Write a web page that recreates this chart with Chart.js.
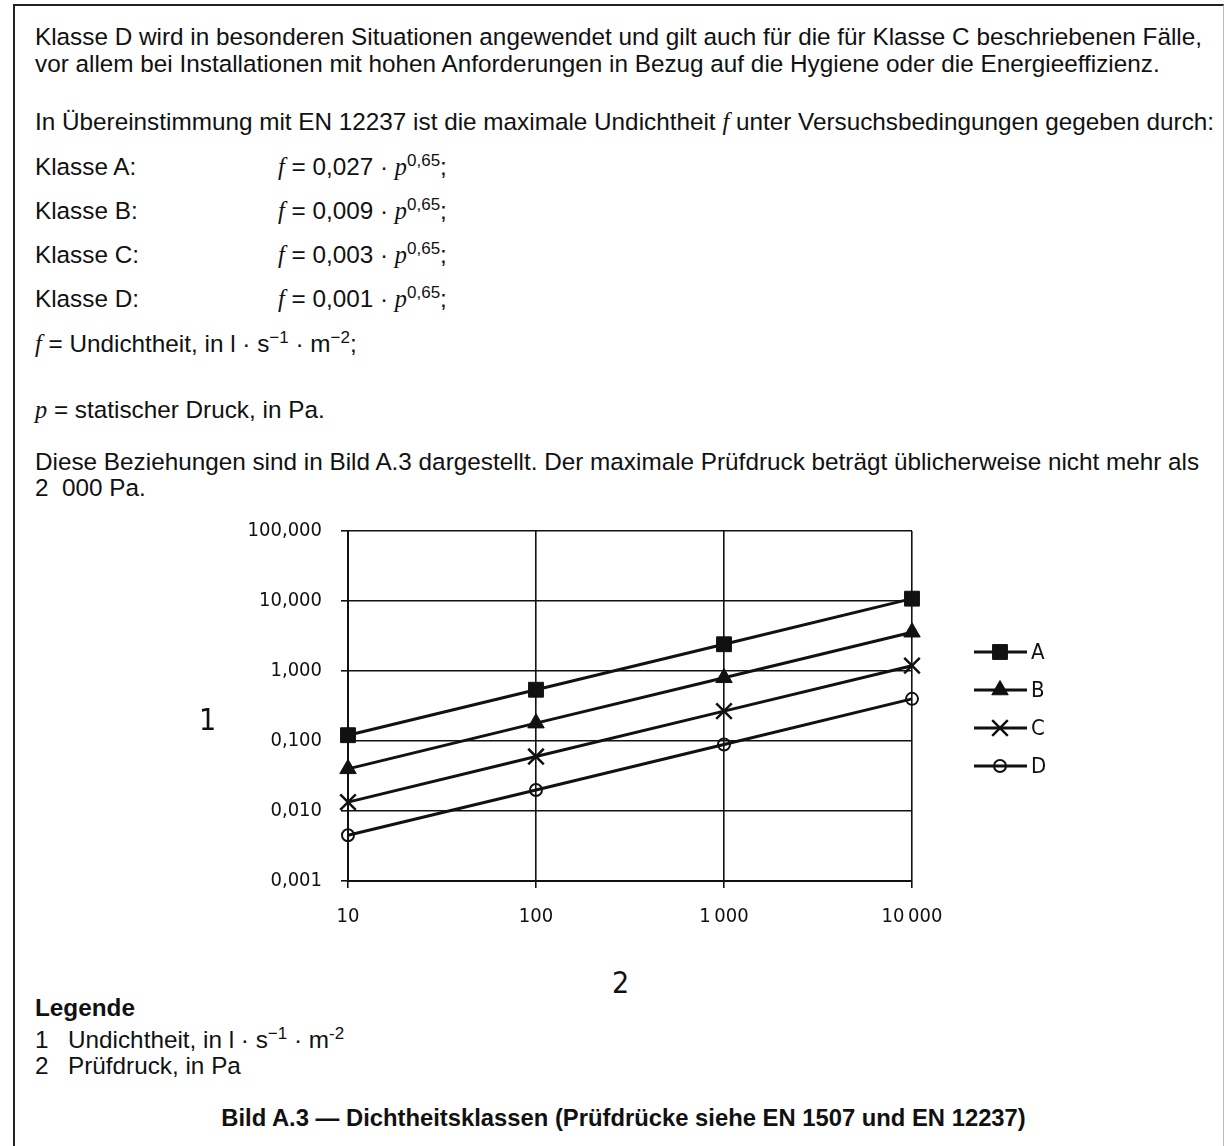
<!DOCTYPE html>
<html>
<head>
    <title>Bild A.3 Dichtheitsklassen</title>
    <script src="https://cdn.jsdelivr.net/npm/chart.js"></script>
    <style>
        body { margin: 0; background: #fff; }
        #page { position: relative; width: 1225px; height: 1146px; overflow: hidden;
                font-family: "Liberation Sans", Arial, sans-serif; font-size: 24.3px; color: #111; }
        #frame { position: absolute; left: 13px; top: 4px; right: 1px; height: 1200px;
                 border-top: 2px solid #222; border-left: 2px solid #222; border-right: 1px solid #bbb; }
        .ln { position: absolute; left: 35px; line-height: 26px; white-space: nowrap; }
        .fx { left: 278px; }
        .it { font-family: "Liberation Serif", "Times New Roman", serif; font-style: italic; }
        sup { font-size: 70%; line-height: 0; vertical-align: 0.55em; }
        .num { left: 68px; }
        .b { font-weight: bold; }
        .cap { font-size: 23.8px; }
        .ax { position: absolute; font-family: "DejaVu Sans Condensed", "Liberation Sans Narrow", sans-serif;
              font-size: 30px; line-height: 30px; color: #111; }
        #chart-box { position: absolute; left: 0; top: 480px; width: 1225px; height: 470px; }
    </style>
</head>
<body>
<div id="page">
    <div id="frame"></div>

    <div class="ln" style="top:24px">Klasse D wird in besonderen Situationen angewendet und gilt auch für die für Klasse C beschriebenen Fälle,</div>
    <div class="ln" style="top:51px">vor allem bei Installationen mit hohen Anforderungen in Bezug auf die Hygiene oder die Energieeffizienz.</div>
    <div class="ln" style="top:109px">In Übereinstimmung mit EN 12237 ist die maximale Undichtheit <span class="it">f</span> unter Versuchsbedingungen gegeben durch:</div>

    <div class="ln" style="top:154px">Klasse A:</div>
    <div class="ln fx" style="top:154px"><span class="it">f</span> = 0,027 · <span class="it">p</span><sup>0,65</sup>;</div>
    <div class="ln" style="top:198px">Klasse B:</div>
    <div class="ln fx" style="top:198px"><span class="it">f</span> = 0,009 · <span class="it">p</span><sup>0,65</sup>;</div>
    <div class="ln" style="top:242px">Klasse C:</div>
    <div class="ln fx" style="top:242px"><span class="it">f</span> = 0,003 · <span class="it">p</span><sup>0,65</sup>;</div>
    <div class="ln" style="top:286px">Klasse D:</div>
    <div class="ln fx" style="top:286px"><span class="it">f</span> = 0,001 · <span class="it">p</span><sup>0,65</sup>;</div>

    <div class="ln" style="top:331px"><span class="it">f</span> = Undichtheit, in l · s<sup>−1</sup> · m<sup>−2</sup>;</div>
    <div class="ln" style="top:397px"><span class="it">p</span> = statischer Druck, in Pa.</div>

    <div class="ln" style="top:449px">Diese Beziehungen sind in Bild A.3 dargestellt. Der maximale Prüfdruck beträgt üblicherweise nicht mehr als</div>
    <div class="ln" style="top:475px">2&nbsp;&nbsp;000 Pa.</div>

    <div id="chart-box"><canvas id="chart"></canvas></div>
    <div class="ax" style="left:199px; top:705px">1</div>
    <div class="ax" style="left:612px; top:968px">2</div>

    <div class="ln b" style="top:995px">Legende</div>
    <div class="ln" style="top:1027px">1</div>
    <div class="ln num" style="top:1027px">Undichtheit, in l · s<sup>−1</sup> · m<sup>-2</sup></div>
    <div class="ln" style="top:1053px">2</div>
    <div class="ln num" style="top:1053px">Prüfdruck, in Pa</div>

    <div class="ln b cap" style="top:1105px; left:0; width:1247px; text-align:center">Bild A.3 — Dichtheitsklassen (Prüfdrücke siehe EN 1507 und EN 12237)</div>
</div>

<script>
// Prüfdruck p in Pa
const pressures = [10, 100, 1000, 10000];

// Undichtheit f in l/(s·m²)
const klasseA = [0.121, 0.54, 2.41, 10.8];
const klasseB = [0.040, 0.180, 0.80, 3.58];
const klasseC = [0.0134, 0.060, 0.267, 1.19];
const klasseD = [0.0045, 0.020, 0.089, 0.40];

const seriesNames = ['A', 'B', 'C', 'D'];

const xTickValues = [10, 100, 1000, 10000];
const xTickLabels = ['10', '100', '1\u2009000', '10\u2009000'];
const yTickValues = [0.001, 0.01, 0.1, 1, 10, 100];
const yTickLabels = ['0,001', '0,010', '0,100', '1,000', '10,000', '100,000'];

const ink = '#111';
const chartFont = '"DejaVu Sans Condensed", "Liberation Sans Narrow", sans-serif';

function toPoints(values) {
    return values.map((v, i) => ({ x: pressures[i], y: v }));
}

// marker style per class
const markers = [
    { pointStyle: 'rect', radius: 10.5, bg: ink, bw: 1 },
    { pointStyle: 'triangle', radius: 9.5, bg: ink, bw: 1 },
    { pointStyle: 'crossRot', radius: 11, bg: ink, bw: 2.5 },
    { pointStyle: 'circle', radius: 6, bg: 'rgba(0,0,0,0)', bw: 2 }
];

const datasets = [klasseA, klasseB, klasseC, klasseD].map((values, i) => ({
    label: seriesNames[i],
    data: toPoints(values),
    borderColor: ink,
    borderWidth: 3,
    pointStyle: markers[i].pointStyle,
    pointRadius: markers[i].radius,
    pointHoverRadius: markers[i].radius,
    pointBackgroundColor: markers[i].bg,
    pointBorderColor: ink,
    pointBorderWidth: markers[i].bw,
    tension: 0,
    clip: false
}));

// legend on the right: short line with the marker, then the letter
const sideLegend = {
    id: 'sideLegend',
    afterDraw(chart) {
        const ctx = chart.ctx;
        const left = chart.chartArea.right + 62;
        const top = chart.chartArea.top + 121;
        ctx.save();
        chart.data.datasets.forEach((ds, i) => {
            const y = top + i * 38;
            ctx.strokeStyle = ink;
            ctx.lineWidth = 3;
            ctx.beginPath();
            ctx.moveTo(left, y);
            ctx.lineTo(left + 53, y);
            ctx.stroke();
            ctx.fillStyle = ds.pointBackgroundColor;
            ctx.strokeStyle = ink;
            ctx.lineWidth = ds.pointBorderWidth;
            Chart.helpers.drawPoint(ctx, {
                pointStyle: ds.pointStyle,
                radius: ds.pointRadius,
                rotation: 0,
                borderWidth: ds.pointBorderWidth
            }, left + 26, y);
            ctx.fillStyle = ink;
            ctx.font = '22px ' + chartFont;
            ctx.textAlign = 'left';
            ctx.textBaseline = 'middle';
            ctx.fillText(ds.label, left + 57, y + 1);
        });
        ctx.restore();
    }
};

new Chart(document.getElementById('chart'), {
    type: 'line',
    data: { datasets: datasets },
    plugins: [sideLegend],
    options: {
        responsive: true,
        maintainAspectRatio: false,
        animation: false,
        events: [],
        layout: { padding: { left: 0, right: 313, top: 51, bottom: 0 } },
        plugins: {
            legend: { display: false },
            tooltip: { enabled: false }
        },
        scales: {
            x: {
                type: 'logarithmic',
                min: 10,
                max: 10000,
                afterBuildTicks: s => { s.ticks = xTickValues.map(v => ({ value: v })); },
                afterFit: s => { s.height = 69; },
                grid: { color: ink, lineWidth: 1.6, tickLength: 7 },
                border: { color: ink, width: 2 },
                ticks: {
                    color: ink,
                    font: { family: chartFont, size: 20 },
                    padding: 17,
                    maxRotation: 0,
                    autoSkip: false,
                    callback: v => xTickLabels[xTickValues.indexOf(v)]
                }
            },
            y: {
                type: 'logarithmic',
                min: 0.001,
                max: 100,
                afterBuildTicks: s => { s.ticks = yTickValues.map(v => ({ value: v })); },
                afterFit: s => { s.width = 348; },
                grid: { color: ink, lineWidth: 1.6, tickLength: 7 },
                border: { color: ink, width: 2 },
                ticks: {
                    color: ink,
                    font: { family: chartFont, size: 20 },
                    padding: 19,
                    autoSkip: false,
                    callback: v => yTickLabels[yTickValues.indexOf(v)]
                }
            }
        }
    }
});
</script>
</body>
</html>
